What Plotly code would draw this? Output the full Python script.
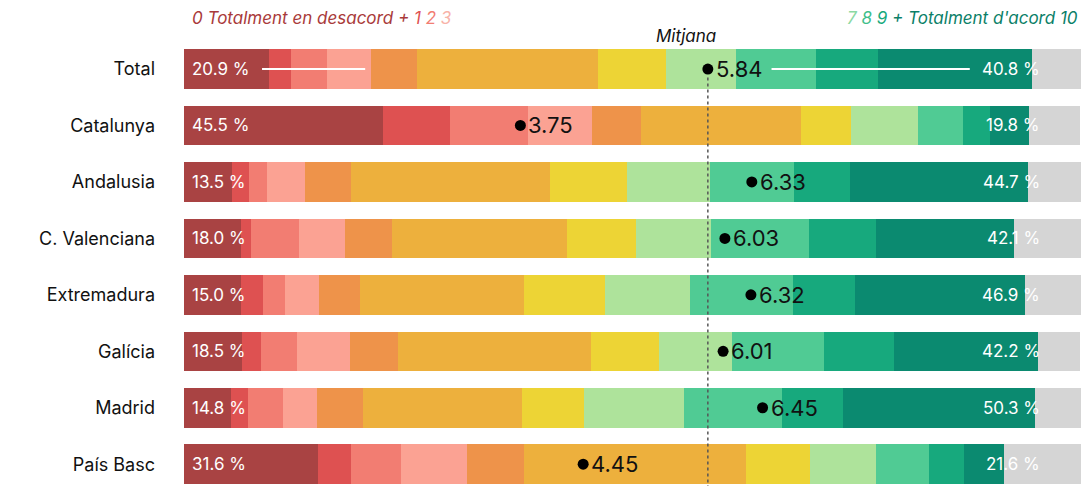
import plotly.graph_objects as go

regions = ["Total", "Catalunya", "Andalusia", "C. Valenciana", "Extremadura",
           "Galícia", "Madrid", "País Basc"]

# share of answers per score (percent), one list per score, ordered as regions
score_0 = [9.5, 22.2, 5.4, 6.4, 6.4, 6.5, 5.2, 14.9]
score_1 = [2.4, 7.4, 1.8, 1.1, 2.4, 2.1, 1.9, 3.7]
score_2 = [4.0, 8.7, 2.1, 5.3, 2.5, 4.0, 3.9, 5.6]
score_3 = [5.0, 7.2, 4.2, 5.2, 3.7, 5.9, 3.8, 7.4]
score_4 = [5.1, 5.4, 5.1, 5.2, 4.6, 5.4, 5.1, 6.3]
score_5 = [20.1, 17.9, 22.2, 19.5, 18.3, 21.5, 17.8, 24.7]
score_6 = [7.6, 5.6, 8.6, 7.7, 9.0, 7.6, 6.9, 7.2]
score_7 = [7.8, 7.4, 9.2, 8.4, 9.5, 8.1, 11.1, 7.4]
score_8 = [9.0, 5.1, 9.4, 10.9, 11.5, 10.3, 11.0, 5.9]
score_9 = [6.9, 3.0, 6.3, 7.4, 6.9, 7.8, 6.8, 3.9]
score_10 = [17.1, 4.3, 19.8, 15.4, 19.0, 16.0, 21.4, 4.4]
no_answer = [5.7, 5.7, 6.1, 7.5, 6.2, 4.7, 5.1, 8.7]

disagree_pct = [20.9, 45.5, 13.5, 18.0, 15.0, 18.5, 14.8, 31.6]
agree_pct = [40.8, 19.8, 44.7, 42.1, 46.9, 42.2, 50.3, 21.6]
means = [5.84, 3.75, 6.33, 6.03, 6.32, 6.01, 6.45, 4.45]

series = [score_0, score_1, score_2, score_3, score_4, score_5, score_6,
          score_7, score_8, score_9, score_10, no_answer]
names = ["0", "1", "2", "3", "4", "5", "6", "7", "8", "9", "10", "NS/NC"]
colors = ["#A94343", "#DE5151", "#F27D72", "#FBA293", "#EE934A", "#EDB03D",
          "#EDD435", "#AEE39B", "#50CB94", "#17A97D", "#0B8A70", "#D5D5D5"]

FONT = "Inter"

fig = go.Figure()
for vals, name, col in zip(series, names, colors):
    fig.add_trace(go.Bar(
        y=regions, x=vals, name=name, orientation="h",
        marker=dict(color=col, line=dict(width=0)),
        width=0.70, hoverinfo="x+name"))

# mean dots (0-10 scale drawn on the 0-100 axis)
fig.add_trace(go.Scatter(
    x=[m * 10 for m in means], y=regions, mode="markers",
    marker=dict(color="black", size=11), hoverinfo="skip"))

annotations = []
for r, d, a, m in zip(regions, disagree_pct, agree_pct, means):
    annotations.append(dict(x=0.7, y=r, xref="x", yref="y", text=f"{d:.1f} %",
                            showarrow=False, xanchor="left",
                            font=dict(family=FONT, size=17, color="white")))
    annotations.append(dict(x=95.7, y=r, xref="x", yref="y", text=f"{a:.1f} %",
                            showarrow=False, xanchor="right",
                            font=dict(family=FONT, size=17, color="white")))
    annotations.append(dict(x=m * 10, y=r, xref="x", yref="y", text=f"{m:.2f}",
                            showarrow=False, xanchor="left", xshift=6,
                            font=dict(family=FONT, size=22, color="#111111")))

annotations.append(dict(
    x=0.007, y=1.05, xref="paper", yref="paper", xanchor="left", yanchor="middle",
    showarrow=False,
    text=("<i><span style='color:#A93A3A'>0 Totalment en desacord + </span>"
          "<span style='color:#DE5151'>1</span> <span style='color:#F27D72'>2</span> "
          "<span style='color:#F8B3A8'>3</span></i>"),
    font=dict(family=FONT, size=17)))
annotations.append(dict(
    x=0.999, y=1.05, xref="paper", yref="paper", xanchor="right", yanchor="middle",
    showarrow=False,
    text=("<i><span style='color:#8CD9A3'>7</span> <span style='color:#3FBE8A'>8</span> "
          "<span style='color:#17A97D'>9</span> "
          "<span style='color:#0B7F68'>+ Totalment d'acord 10</span></i>"),
    font=dict(family=FONT, size=17)))
annotations.append(dict(
    x=means[0] * 10, y=1.008, xref="x", yref="paper", xanchor="center",
    yanchor="middle", xshift=-22, showarrow=False, text="<i>Mitjana</i>",
    font=dict(family=FONT, size=17, color="#111111")))

shapes = [
    dict(type="line", xref="x", yref="y", x0=means[0] * 10, x1=means[0] * 10,
         y0=0.15, y1=7.6, line=dict(color="#555555", width=1.5, dash="3px,3px"),
         layer="above"),
    dict(type="line", xref="x", yref="y", x0=8.7, x1=20.2, y0=0, y1=0,
         line=dict(color="white", width=2), layer="above"),
    dict(type="line", xref="x", yref="y", x0=65.5, x1=87.6, y0=0, y1=0,
         line=dict(color="white", width=2), layer="above"),
]

fig.update_layout(
    width=1089, height=486,
    margin=dict(l=184, r=8, t=40, b=0, autoexpand=False),
    barmode="stack", showlegend=False,
    plot_bgcolor="white", paper_bgcolor="white",
    xaxis=dict(range=[0, 100], visible=False, fixedrange=True, automargin=False),
    yaxis=dict(categoryorder="array", categoryarray=regions, automargin=False,
               range=[7.386, -0.514], showgrid=False, zeroline=False,
               ticks="", ticklabelstandoff=28,
               tickfont=dict(family=FONT, size=18, color="#111111")),
    annotations=annotations, shapes=shapes,
    font=dict(family=FONT),
)

fig.write_html("out.html",
               config={"displayModeBar": False},
               post_script="document.body.style.margin='0';"
                           "document.body.style.overflow='hidden';")
